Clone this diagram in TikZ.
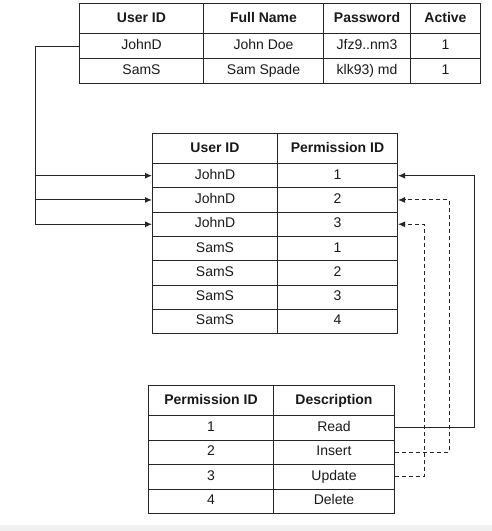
\documentclass[tikz,border=0pt]{standalone}
\usepackage{fontspec}
\setmainfont{Liberation Sans}
\usetikzlibrary{arrows.meta}
\begin{document}
\begin{tikzpicture}[x=1pt,y=-1pt,
  cell/.style={draw=black!85, line width=1pt, inner sep=0pt, anchor=north west,
    text height=10pt, text depth=3pt,
    font=\fontsize{14}{16}\selectfont, text=black!90},
  head/.style={cell, font=\fontsize{14}{16}\selectfont\bfseries},
  link/.style={draw=black!85, line width=1pt},
  dlink/.style={link, dash pattern=on 4pt off 3pt},
  tip/.style={-{Latex[length=7pt,width=6pt]}}]
\useasboundingbox (0,0) rectangle (492,531);
\fill[black!6] (0,525) rectangle (492,531);

% ---------- top table ----------
\node[head, minimum width=124pt, minimum height=30pt] (th1) at (79,3) {User ID};
\node[head, minimum width=120pt, minimum height=30pt] (th2) at (203,3) {Full Name};
\node[head, minimum width=87pt, minimum height=30pt] (th3) at (323,3) {Password};
\node[head, minimum width=70pt, minimum height=30pt] (th4) at (410,3) {Active};
\node[cell, minimum width=124pt, minimum height=25pt] (t11) at (79,33) {JohnD};
\node[cell, minimum width=120pt, minimum height=25pt] (t12) at (203,33) {John Doe};
\node[cell, minimum width=87pt, minimum height=25pt] (t13) at (323,33) {Jfz9..nm3};
\node[cell, minimum width=70pt, minimum height=25pt] (t14) at (410,33) {1};
\node[cell, minimum width=124pt, minimum height=25pt] (t21) at (79,58) {SamS};
\node[cell, minimum width=120pt, minimum height=25pt] (t22) at (203,58) {Sam Spade};
\node[cell, minimum width=87pt, minimum height=25pt] (t23) at (323,58) {klk93) md};
\node[cell, minimum width=70pt, minimum height=25pt] (t24) at (410,58) {1};

% ---------- middle table ----------
\node[head, minimum width=125pt, minimum height=30pt] (mh1) at (152,133) {User ID};
\node[head, minimum width=120pt, minimum height=30pt] (mh2) at (277,133) {Permission ID};
\foreach \i/\u/\p in {1/JohnD/1,2/JohnD/2,3/JohnD/3,4/SamS/1,5/SamS/2,6/SamS/3,7/SamS/4}{
  \node[cell, minimum width=125pt, minimum height=24.3pt] (m\i1) at (152,{163+(\i-1)*24.3}) {\u};
  \node[cell, minimum width=120pt, minimum height=24.3pt] (m\i2) at (277,{163+(\i-1)*24.3}) {\p};
}

% ---------- bottom table ----------
\node[head, minimum width=125pt, minimum height=30pt] (bh1) at (148,385) {Permission ID};
\node[head, minimum width=121pt, minimum height=30pt] (bh2) at (273,385) {Description};
\foreach \i/\p/\d in {1/1/Read,2/2/Insert,3/3/Update,4/4/Delete}{
  \node[cell, minimum width=125pt, minimum height=24.5pt] (b\i1) at (148,{415+(\i-1)*24.5}) {\p};
  \node[cell, minimum width=121pt, minimum height=24.5pt] (b\i2) at (273,{415+(\i-1)*24.5}) {\d};
}

% ---------- connectors ----------
\coordinate (bus) at (35,0);
\draw[link] (t11.west) -| (bus |- m31.west);
\draw[link,tip] (bus |- m11.west) -- (m11.west);
\draw[link,tip] (bus |- m21.west) -- (m21.west);
\draw[link,tip] (bus |- m31.west) -- (m31.west);

\coordinate (r1) at (474,0);
\coordinate (r2) at (449,0);
\coordinate (r3) at (424,0);
\draw[link,tip] (b12.east) -- (r1 |- b12.east) |- (m12.east);
\draw[dlink,tip] (b22.east) -- (r2 |- b22.east) |- (m22.east);
\draw[dlink,tip] (b32.east) -- (r3 |- b32.east) |- (m32.east);
\end{tikzpicture}
\end{document}
